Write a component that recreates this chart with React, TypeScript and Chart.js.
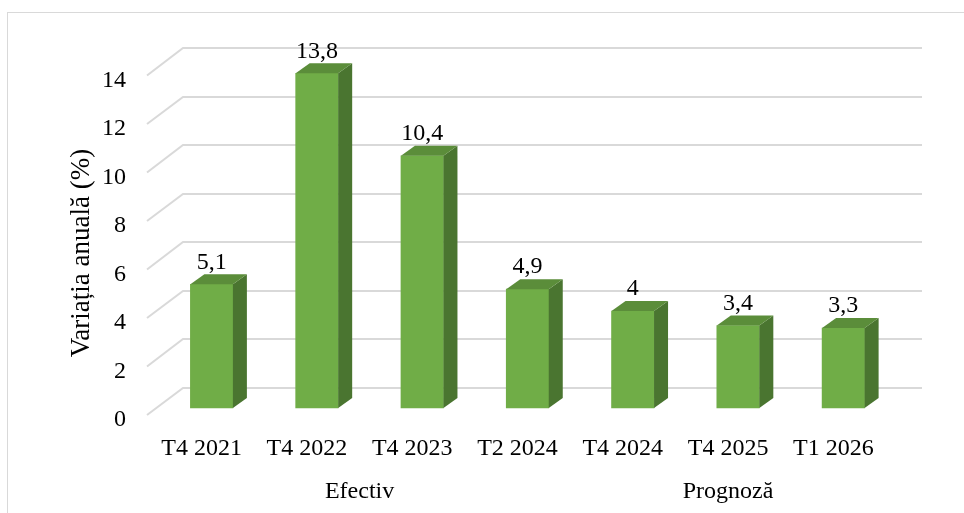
import React, { useEffect, useRef } from 'react';
import { Chart, registerables } from 'chart.js';

Chart.register(...registerables);

const categories = ['T4 2021', 'T4 2022', 'T4 2023', 'T2 2024', 'T4 2024', 'T4 2025', 'T1 2026'];
const values = [5.1, 13.8, 10.4, 4.9, 4, 3.4, 3.3];
const groupLabels = ['Efectiv', 'Prognoză'];
const groupStart = [0, 4];
const groupEnd = [3, 6];
const yMin = 0;
const yMax = 14;
const yStep = 2;
const yTitle = 'Variația anuală (%)';

const FONT = "'Times New Roman', 'Liberation Serif', serif";
const FRONT = '#70AD47';
const SIDE = '#4A7530';
const TOP = '#5B8D3A';
const GRID = '#D9D9D9';

// 3D geometry (pixels)
const FLOOR_DX = 36;
const FLOOR_DY = 27.5;
const BAR_DX = 10;
const BAR_DY = -9;
const SIDE_DX = 14;
const SIDE_DY = -10;

const fmt = (v: number) => String(v).replace('.', ',');

const excel3d = {
  id: 'excel3d',
  beforeDraw(chart: any) {
    const ctx = chart.ctx;
    ctx.save();
    ctx.fillStyle = '#FFFFFF';
    ctx.fillRect(0, 0, chart.width, chart.height);
    ctx.strokeStyle = GRID;
    ctx.lineWidth = 1;
    ctx.strokeRect(7.5, 12.5, chart.width + 20, chart.height + 20);
    ctx.restore();
  },
  beforeDatasetsDraw(chart: any) {
    const { ctx, chartArea, scales } = chart;
    const y = scales.y;
    ctx.save();
    ctx.strokeStyle = GRID;
    ctx.lineWidth = 2;
    const fx = chartArea.left - 2;
    const bx = fx + FLOOR_DX;
    const bxr = chartArea.right + FLOOR_DX;
    y.ticks.forEach((t: any) => {
      const py = y.getPixelForValue(t.value);
      const back = Math.round(py - 2 - FLOOR_DY);
      ctx.beginPath();
      ctx.moveTo(fx, py - 2);
      ctx.lineTo(bx, back);
      ctx.lineTo(bxr, back);
      ctx.stroke();
    });
    ctx.restore();
    ctx.save();
    ctx.translate(BAR_DX, BAR_DY);
  },
  afterDatasetsDraw(chart: any) {
    const ctx = chart.ctx;
    ctx.restore();
    const meta = chart.getDatasetMeta(0);
    meta.data.forEach((bar: any, i: number) => {
      const { x, y, base, width } = bar.getProps(['x', 'y', 'base', 'width'], true);
      const l = x - width / 2 + BAR_DX;
      const r = x + width / 2 + BAR_DX;
      const t = y + BAR_DY;
      const b = base + BAR_DY;
      ctx.save();
      ctx.fillStyle = SIDE;
      ctx.beginPath();
      ctx.moveTo(r, t);
      ctx.lineTo(r + SIDE_DX, t + SIDE_DY);
      ctx.lineTo(r + SIDE_DX, b + SIDE_DY);
      ctx.lineTo(r, b);
      ctx.closePath();
      ctx.fill();
      ctx.fillStyle = TOP;
      ctx.beginPath();
      ctx.moveTo(l, t);
      ctx.lineTo(l + SIDE_DX, t + SIDE_DY);
      ctx.lineTo(r + SIDE_DX, t + SIDE_DY);
      ctx.lineTo(r, t);
      ctx.closePath();
      ctx.fill();
      ctx.fillStyle = '#000000';
      ctx.font = `24px ${FONT}`;
      ctx.textAlign = 'center';
      ctx.textBaseline = 'middle';
      ctx.fillText(fmt(values[i]), (l + r) / 2, t - 22);
      ctx.restore();
    });
  },
  afterDraw(chart: any) {
    const { ctx, scales } = chart;
    const xs = scales.x;
    ctx.save();
    ctx.fillStyle = '#000000';
    ctx.font = `24px ${FONT}`;
    ctx.textAlign = 'center';
    ctx.textBaseline = 'middle';
    groupLabels.forEach((g, i) => {
      const cx = (xs.getPixelForValue(groupStart[i]) + xs.getPixelForValue(groupEnd[i])) / 2;
      ctx.fillText(g, cx, 492);
    });
    ctx.translate(82, 253);
    ctx.rotate(-Math.PI / 2);
    ctx.font = `27px ${FONT}`;
    ctx.fillText(yTitle, 0, 0);
    ctx.restore();
  },
};

export default function App() {
  const ref = useRef<HTMLCanvasElement | null>(null);
  useEffect(() => {
    if (!ref.current) return;
    const chart = new Chart(ref.current, {
      type: 'bar',
      data: {
        labels: categories,
        datasets: [
          {
            data: values,
            backgroundColor: FRONT,
            borderWidth: 0,
            barThickness: 42.5,
            clip: false as any,
          },
        ],
      },
      options: {
        responsive: false,
        animation: false,
        layout: { padding: { left: 0, right: 78, top: 77.5, bottom: 0 } },
        plugins: { legend: { display: false }, tooltip: { enabled: false } },
        scales: {
          x: {
            grid: { display: false, drawTicks: false },
            border: { display: false },
            ticks: {
              font: { family: FONT, size: 24 },
              color: '#000000',
              padding: 17,
              maxRotation: 0,
              autoSkip: false,
            },
            afterFit: (s: any) => {
              s.height = 96;
            },
          },
          y: {
            min: yMin,
            max: yMax,
            grid: { display: false, drawTicks: false },
            border: { display: false },
            ticks: {
              stepSize: yStep,
              font: { family: FONT, size: 24 },
              color: '#000000',
              padding: 23,
              labelOffset: 3,
            },
            afterFit: (s: any) => {
              s.width = 149;
            },
          },
        },
      },
      plugins: [excel3d],
    });
    return () => chart.destroy();
  }, []);
  return (
    <div style={{ position: 'fixed', left: 0, top: 0, width: 964, height: 513 }}>
      <canvas ref={ref} width={964} height={513} style={{ display: 'block' }} />
    </div>
  );
}
